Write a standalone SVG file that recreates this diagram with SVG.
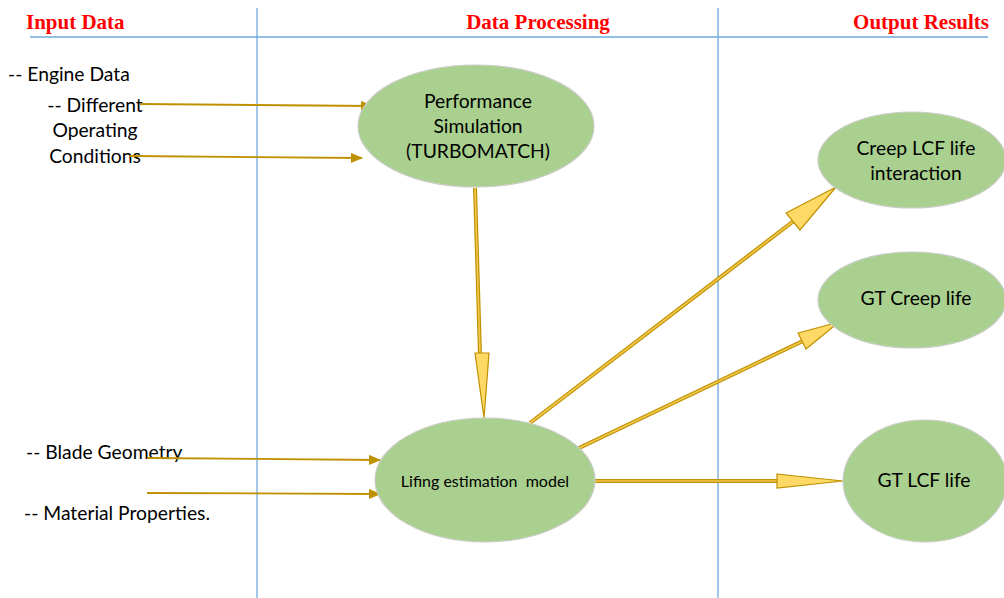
<svg xmlns="http://www.w3.org/2000/svg" width="1004" height="598" viewBox="0 0 1004 598">
<style>
.hdr{font-family:"Liberation Serif",serif;font-weight:bold;font-size:21px;fill:#FF0000}
.t{font-family:Lato,"Liberation Sans",sans-serif;font-size:19.3px;fill:#000}
.n{fill:#A9D08E;stroke:#C8CCC4;stroke-width:1.2}
.grid{stroke:#6FA8DC;stroke-width:1.3;fill:none}
.thin{stroke:#BF9000;stroke-width:1.8;fill:none}
.shaft{stroke:#BF9000;stroke-width:4;fill:none}
.shaftin{stroke:#F2C94C;stroke-width:1.6;fill:none}
.head{fill:#FFD966;stroke:#BF9000;stroke-width:1.2}
</style>
<defs>
<marker id="sm" markerWidth="12" markerHeight="10" refX="11" refY="5" orient="auto" markerUnits="userSpaceOnUse">
<path d="M0,0 L12,5 L0,10 Z" fill="#BF9000"/>
</marker>
</defs>
<rect width="1004" height="598" fill="#fff"/>
<g id="grid">
<line class="grid" x1="30" y1="37" x2="988" y2="37"/>
<line class="grid" x1="257" y1="8" x2="257" y2="598"/>
<line class="grid" x1="718" y1="8" x2="718" y2="598"/>
</g>
<g id="headers">
<text class="hdr" x="26" y="29">Input Data</text>
<text class="hdr" x="538" y="29" text-anchor="middle">Data Processing</text>
<text class="hdr" x="989" y="29" text-anchor="end">Output Results</text>
</g>
<g id="inputs">
<text class="t" x="8" y="81">-- Engine Data</text>
<text class="t" x="95" y="112" text-anchor="middle">-- Different</text>
<text class="t" x="95" y="137" text-anchor="middle">Operating</text>
<text class="t" x="95" y="163" text-anchor="middle">Conditions</text>
<text class="t" x="26" y="459">-- Blade Geometry</text>
<text class="t" x="24" y="520">-- Material Properties.</text>
</g>
<g id="connectors">
<line class="thin" x1="140" y1="104" x2="372" y2="106" marker-end="url(#sm)"/>
<line class="thin" x1="130" y1="156" x2="362" y2="158" marker-end="url(#sm)"/>
<line class="thin" x1="147" y1="458" x2="380" y2="460" marker-end="url(#sm)"/>
<line class="thin" x1="147" y1="493" x2="380" y2="494" marker-end="url(#sm)"/>
<line class="shaft" x1="475" y1="188" x2="480" y2="355"/>
<line class="shaftin" x1="475" y1="188" x2="480" y2="355"/>
<path class="head" d="M475,353 L489,353 L484,418 Z"/>
<line class="shaft" x1="530" y1="423" x2="795" y2="220"/>
<line class="shaftin" x1="530" y1="423" x2="795" y2="220"/>
<path class="head" d="M786,213 L836,187 L800,230 Z"/>
<line class="shaft" x1="577" y1="449" x2="805" y2="340"/>
<line class="shaftin" x1="577" y1="449" x2="805" y2="340"/>
<path class="head" d="M798,333 L839,322 L806,349 Z"/>
<line class="shaft" x1="594" y1="481" x2="780" y2="481"/>
<line class="shaftin" x1="594" y1="481" x2="780" y2="481"/>
<path class="head" d="M777,474 L843,481 L777,488 Z"/>
</g>
<g id="perf">
<ellipse class="n" cx="476" cy="126" rx="118" ry="61"/>
<text class="t" x="478" y="108" text-anchor="middle">Performance</text>
<text class="t" x="478" y="133" text-anchor="middle">Simulation</text>
<text class="t" x="478" y="158" text-anchor="middle">(TURBOMATCH)</text>
</g>
<g id="lifing">
<ellipse class="n" cx="485" cy="480" rx="110" ry="62"/>
<text class="t" x="485" y="487" text-anchor="middle" style="font-size:16px" xml:space="preserve">Lifing estimation  model</text>
</g>
<g id="creeplcf">
<ellipse class="n" cx="912" cy="160" rx="94" ry="48"/>
<text class="t" x="916" y="155" text-anchor="middle">Creep LCF life</text>
<text class="t" x="916" y="180" text-anchor="middle">interaction</text>
</g>
<g id="gtcreep">
<ellipse class="n" cx="912" cy="300" rx="94" ry="48"/>
<text class="t" x="916" y="305" text-anchor="middle">GT Creep life</text>
</g>
<g id="gtlcf">
<ellipse class="n" cx="925" cy="481" rx="82" ry="61"/>
<text class="t" x="924" y="487" text-anchor="middle">GT LCF life</text>
</g>
</svg>
